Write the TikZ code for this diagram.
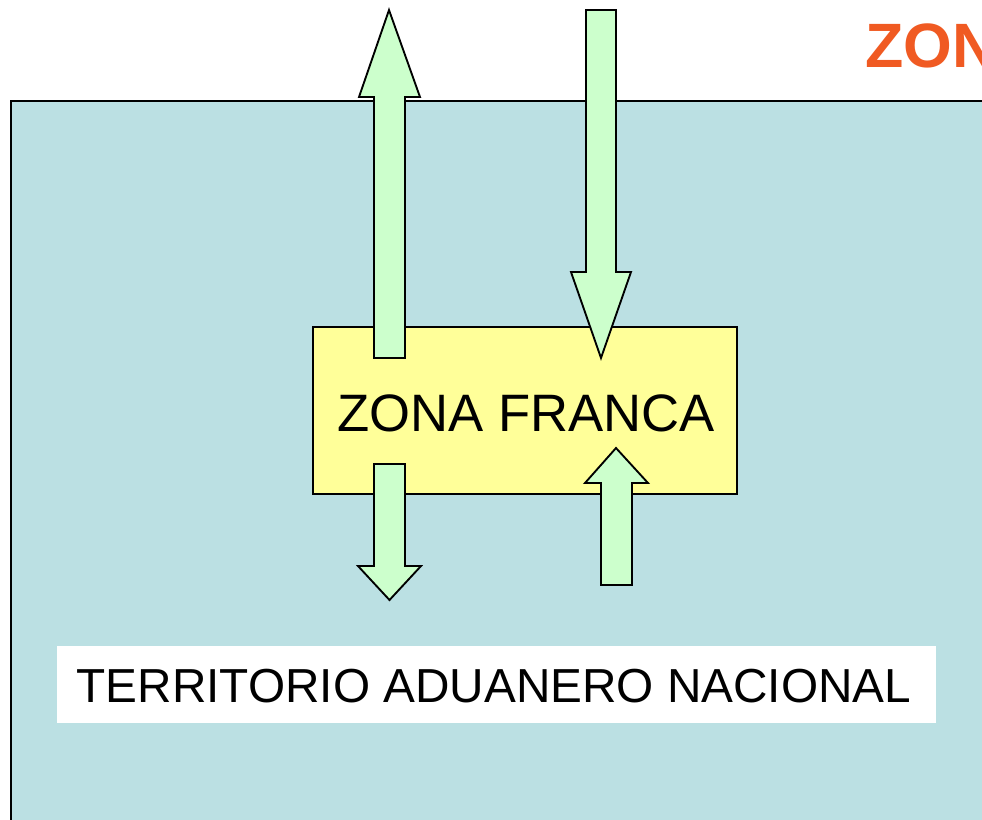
\documentclass[tikz,border=0pt]{standalone}
\usepackage{fontspec}
\setmainfont{Liberation Sans}
\definecolor{terrblue}{HTML}{BBE0E3}
\definecolor{zfyellow}{HTML}{FFFF99}
\definecolor{arrgreen}{HTML}{CCFFCC}
\definecolor{titleorange}{HTML}{F05A22}
\tikzset{
  blockarrow/.style={draw=black, fill=arrgreen, line width=1.4pt, line join=miter},
  zonebox/.style={draw=black, fill=zfyellow, line width=1.5pt, inner sep=0pt},
  labelbox/.style={fill=white, draw=none, inner sep=0pt}
}
\begin{document}
\begin{tikzpicture}[x=0.75pt,y=-0.75pt]
\useasboundingbox (0,0) rectangle (982,819);
\clip (0,0) rectangle (982,819);
\fill[white] (0,0) rectangle (982,819);
% territory
\draw[fill=terrblue, line width=2pt] (1100,101) -- (11,101) -- (11,900);
\fill[terrblue] (12.3,102.3) rectangle (1100,900);
% title (clipped by the picture edge, as in the reference)
\node[anchor=base west, inner sep=0pt, text=titleorange, font=\bfseries\fontsize{47}{50}\selectfont] (title) at (865,67) {ZON};
% zona franca box
\node[zonebox, minimum width=318pt, minimum height=125pt] (zf) at (525,410.5) {};
\node[inner sep=0pt, anchor=base, font=\fontsize{39.5}{42}\selectfont] (zftext) at (526,431) {ZONA FRANCA};
% territory label
\node[labelbox, minimum width=659pt, minimum height=57.75pt] (tanbox) at (496.5,684.5) {};
\node[inner sep=0pt, anchor=base, font=\fontsize{35.8}{38}\selectfont] (tantext) at (494,702) {TERRITORIO ADUANERO NACIONAL};
% arrow 1: up, from box to outside
\draw[blockarrow] (374,358) -- (374,97) -- (359,97) -- (389,10) -- (420,97) -- (405,97) -- (405,358) -- cycle;
% arrow 2: down, from outside to box
\draw[blockarrow] (586,10) -- (586,272) -- (571,272) -- (601,358) -- (631,272) -- (616,272) -- (616,10) -- cycle;
% arrow 3: down, from box to territory
\draw[blockarrow] (374,464) -- (374,566) -- (358,566) -- (389.5,600) -- (421,566) -- (405,566) -- (405,464) -- cycle;
% arrow 4: up, from territory to box
\draw[blockarrow] (601,585) -- (601,483) -- (585,483) -- (616,448) -- (648,483) -- (632,483) -- (632,585) -- cycle;
\end{tikzpicture}
\end{document}
